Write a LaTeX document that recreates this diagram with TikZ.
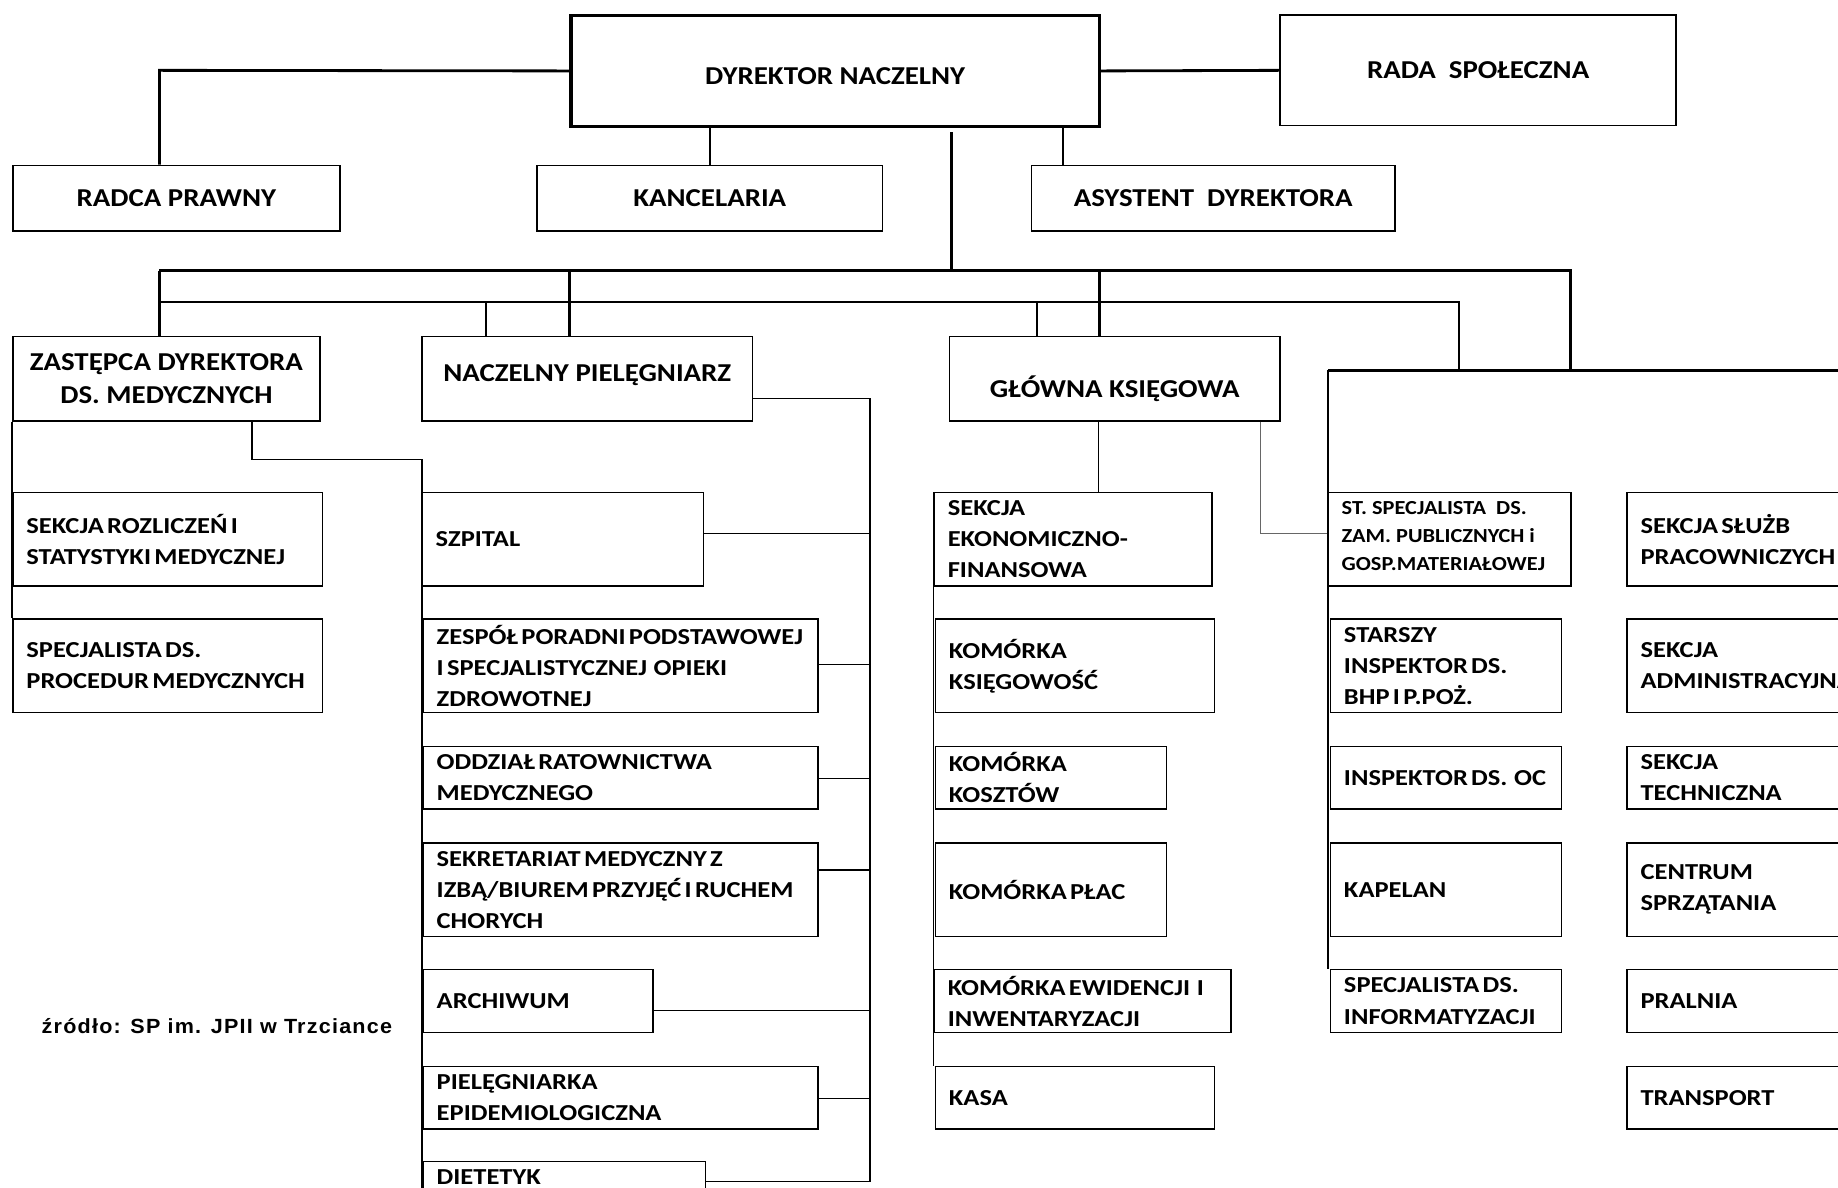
\documentclass[tikz,border=0pt]{standalone}
\usepackage{fontspec}
\setmainfont{Carlito}[FakeStretch=1.12]
\newfontfamily\bxfont{Carlito}[FakeStretch=1.16, WordSpace=0.55]
\newfontfamily\sbxfont{Carlito}[FakeStretch=1.12]
\newfontfamily\srcfont{Liberation Sans}[FakeStretch=1.05, LetterSpace=6]
\begin{document}
\begin{tikzpicture}[x=1pt,y=-1pt,
  box/.style={draw, line width=1.3pt, inner sep=0pt},
  tbox/.style={draw, line width=2.8pt, inner sep=0pt},
  lbl/.style={font=\bxfont\bfseries\fontsize{19.5}{26.5}\selectfont, align=left, inner sep=0pt, anchor=west},
  slbl/.style={font=\sbxfont\bfseries\fontsize{17}{24}\selectfont, align=left, inner sep=0pt, anchor=west},
  ttl/.style={font=\bfseries\fontsize{22}{28}\selectfont, align=center, inner sep=0pt},
  conn/.style={line width=1.3pt},
  thk/.style={line width=2.4pt},
  mid/.style={line width=1.7pt},
  fine/.style={line width=0.9pt, black!60}]
\newcommand{\mybox}[6][box]{%
  \pgfmathsetmacro\bw{#5-#3}\pgfmathsetmacro\bh{#6-#4}%
  \node[#1, minimum width=\bw pt, minimum height=\bh pt] (#2) at ({(#3+#5)/2},{(#4+#6)/2}) {};}
\newcommand{\mylbl}[3][lbl]{\node[#1] (#2-t) at ([xshift=12pt]#2.west) {#3};}
\newcommand{\myttl}[3][ttl]{\node[#1] (#2-t) at (#2.center) {#3};}
\useasboundingbox (0,0) rectangle (1568,1013);
\clip (0,0) rectangle (1568,1013);
\fill[white] (0,0) rectangle (1568,1013);

% top level
\mybox[tbox]{dn}{487}{13}{938}{108}
\mybox{rada}{1092}{13}{1430}{107}
\mybox{rp}{11}{141}{290}{197}
\mybox{kan}{458}{141}{753}{197}
\mybox{asy}{880}{141}{1190}{197}
\myttl[ttl,yshift=-4.5pt]{dn}{DYREKTOR NACZELNY}
\myttl{rada}{RADA\ \ SPOŁECZNA}
\myttl{rp}{RADCA PRAWNY}
\myttl{kan}{KANCELARIA}
\myttl{asy}{ASYSTENT\ \ DYREKTORA}

% second level
\mybox{zas}{11}{287}{273}{359}
\mybox{np}{360}{287}{642}{359}
\mybox{gk}{810}{287}{1092}{359}
\myttl{zas}{ZASTĘPCA DYREKTORA\\DS. MEDYCZNYCH}
\myttl[ttl,yshift=3pt]{np}{NACZELNY PIELĘGNIARZ}
\myttl[ttl,yshift=-9pt]{gk}{GŁÓWNA KSIĘGOWA}

% medical deputy column
\mybox{sr}{11}{420}{275}{500}
\mybox{spm}{11}{528}{275}{608}
\mylbl{sr}{SEKCJA ROZLICZEŃ I\\STATYSTYKI MEDYCZNEJ}
\mylbl{spm}{SPECJALISTA DS.\\PROCEDUR MEDYCZNYCH}

% nursing column
\mybox{szp}{360}{420}{600}{500}
\mybox{zes}{361}{528}{698}{608}
\mybox{odd}{361}{637}{698}{690}
\mybox{sek}{361}{719}{698}{799}
\mybox{arc}{361}{827}{557}{881}
\mybox{pie}{361}{910}{698}{963}
\mybox{die}{361}{991}{602}{1030}
\mylbl{szp}{SZPITAL}
\mylbl{zes}{ZESPÓŁ PORADNI PODSTAWOWEJ\\I SPECJALISTYCZNEJ\ \ OPIEKI\\ZDROWOTNEJ}
\mylbl{odd}{ODDZIAŁ RATOWNICTWA\\MEDYCZNEGO}
\mylbl{sek}{SEKRETARIAT MEDYCZNY Z\\IZBĄ/BIUREM PRZYJĘĆ I RUCHEM\\CHORYCH}
\mylbl{arc}{ARCHIWUM}
\mylbl{pie}{PIELĘGNIARKA\\EPIDEMIOLOGICZNA}
\mylbl[lbl,yshift=6.5pt]{die}{DIETETYK}

% finance column
\mybox{seo}{797}{420}{1034}{500}
\mybox{kks}{798}{528}{1036}{608}
\mybox{kko}{798}{637}{995}{690}
\mybox{kpl}{798}{719}{995}{799}
\mybox{kew}{797}{827}{1050}{881}
\mybox{kasa}{798}{910}{1036}{963}
\mylbl{seo}{SEKCJA\\EKONOMICZNO-\\FINANSOWA}
\mylbl{kks}{KOMÓRKA\\KSIĘGOWOŚĆ}
\mylbl{kko}{KOMÓRKA\\KOSZTÓW}
\mylbl{kpl}{KOMÓRKA PŁAC}
\mylbl{kew}{KOMÓRKA EWIDENCJI\ \ I\\INWENTARYZACJI}
\mylbl{kasa}{KASA}

% right inner column
\mybox{ssp}{1133}{420}{1340}{500}
\mybox{sbhp}{1135}{528}{1332}{608}
\mybox{ioc}{1135}{637}{1332}{690}
\mybox{kap}{1135}{719}{1332}{799}
\mybox{sinf}{1135}{827}{1332}{881}
\mylbl[slbl,yshift=3pt]{ssp}{ST. SPECJALISTA\ \ DS.\\ZAM. PUBLICZNYCH i\\GOSP.MATERIAŁOWEJ}
\mylbl{sbhp}{STARSZY\\INSPEKTOR DS.\\BHP I P.POŻ.}
\mylbl{ioc}{INSPEKTOR DS.\ \ OC}
\mylbl{kap}{KAPELAN}
\mylbl{sinf}{SPECJALISTA DS.\\INFORMATYZACJI}

% right outer column
\mybox{ssl}{1388}{420}{1620}{500}
\mybox{sadm}{1388}{528}{1620}{608}
\mybox{stech}{1388}{637}{1620}{690}
\mybox{csp}{1388}{719}{1620}{799}
\mybox{pral}{1388}{827}{1620}{881}
\mybox{trans}{1388}{910}{1620}{963}
\mylbl{ssl}{SEKCJA SŁUŻB\\PRACOWNICZYCH}
\mylbl{sadm}{SEKCJA\\ADMINISTRACYJNA}
\mylbl{stech}{SEKCJA\\TECHNICZNA}
\mylbl{csp}{CENTRUM\\SPRZĄTANIA}
\mylbl{pral}{PRALNIA}
\mylbl{trans}{TRANSPORT}

% source
\node[font=\srcfont\bfseries\fontsize{17.5}{20}\selectfont, inner sep=0pt] (src) at (185,875) {źródło: SP im. JPII w Trzciance};

% ---- connectors ----
\coordinate (j1) at (136,60);
\draw[thk] (dn.west) -- (j1) -- (j1 |- rp.north);
\draw[thk] (dn.east) -- (rada.west);
\draw[mid] (kan.north) -- (kan.north |- dn.south);
\coordinate (ja) at (907,108);
\draw[mid] (ja) -- (ja |- asy.north);

\coordinate (t0) at (812,113);
\coordinate (h1) at (136,231);
\coordinate (h2) at (486,231);
\coordinate (h3) at (938,231);
\coordinate (h4) at (1340,231);
\coordinate (rb1) at (1133,316);
\coordinate (rb2) at (1620,316);
\coordinate (rb3) at (1133,827);
\draw[thk] (t0) -- (t0 |- h1);
\draw[thk] (h1) -- (h4) -- (h4 |- rb1);
\draw[thk] (h1) -- (h1 |- zas.north);
\draw[thk] (h2) -- (h2 |- np.north);
\draw[thk] (h3) -- (h3 |- gk.north);
\coordinate (g1) at (136,258);
\coordinate (g2) at (415,258);
\coordinate (g3) at (885,258);
\coordinate (g4) at (1245,258);
\draw[mid] (g1) -- (g4) -- (g4 |- rb1);
\draw[mid] (g2) -- (g2 |- np.north);
\draw[mid] (g3) -- (g3 |- gk.north);
\draw[thk] (rb2) -- (rb1);
\draw[mid] (rb1) -- (rb3);

% deputy
\draw[conn] (zas.south west) -- (zas.south west |- spm.north);
\coordinate (z1) at (215,392);
\coordinate (z2) at (360,392);
\coordinate (z3) at (360,1020);
\draw[conn] (z1 |- zas.south) -- (z1) -- (z2) -- (z3);

% nursing bus
\coordinate (n1) at (742,340);
\coordinate (n2) at (742,1008);
\draw[conn] (np.east |- n1) -- (n1) -- (n2) -- (n2 -| die.east);
\coordinate (v1) at (742,455);
\coordinate (v2) at (742,567);
\coordinate (v3) at (742,664);
\coordinate (v4) at (742,742);
\coordinate (v5) at (742,862);
\coordinate (v6) at (742,937);
\draw[conn] (v1) -- (v1 -| szp.east);
\draw[conn] (v2) -- (v2 -| zes.east);
\draw[conn] (v3) -- (v3 -| odd.east);
\draw[conn] (v4) -- (v4 -| sek.east);
\draw[conn] (v5) -- (v5 -| arc.east);
\draw[conn] (v6) -- (v6 -| pie.east);

% finance
\coordinate (k1) at (937,0);
\draw[conn] (k1 |- gk.south) -- (k1 |- seo.north);
\coordinate (k2) at (1075,455);
\draw[fine] (k2 |- gk.south) -- (k2) -- (k2 -| ssp.west);
\draw[conn] (seo.south west) -- (seo.south west |- kasa.north);
\end{tikzpicture}
\end{document}
